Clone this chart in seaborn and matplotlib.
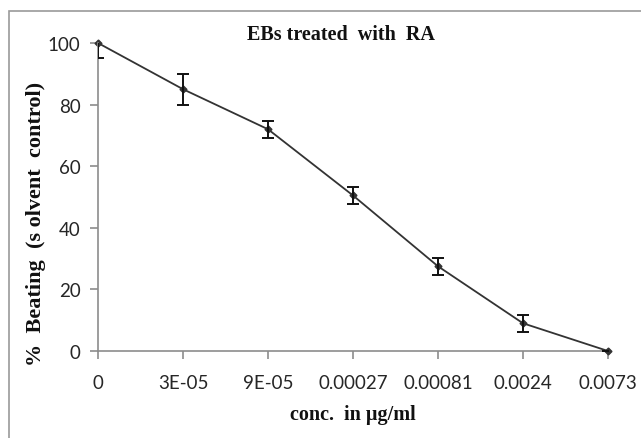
import matplotlib
matplotlib.use("Agg")
import matplotlib.pyplot as plt
import seaborn as sns
import pandas as pd
from matplotlib.patches import Rectangle

concentrations = ["0", "3E-05", "9E-05", "0.00027", "0.00081", "0.0024", "0.0073"]
beating = [100, 85, 72, 50.5, 27.5, 9, 0]
beating_err = [5, 5, 2.7, 2.7, 2.7, 2.7, 0]
y_ticks = [0, 20, 40, 60, 80, 100]

df = pd.DataFrame({"conc": concentrations, "beating": beating, "err": beating_err})

sns.set_style("white")
W, H = 641, 439
fig = plt.figure(figsize=(W / 100, H / 100), dpi=100)
ax = fig.add_axes([98 / W, 1 - 352 / H, (608 - 98) / W, (352 - 44) / H])

# outer chart frame
fig.add_artist(Rectangle((9 / W, -0.05), 1.0, 1 - 12 / H + 0.05, transform=fig.transFigure,
                         fill=False, edgecolor="#9a9a9a", linewidth=1.2))

line_color = "#333333"
sns.pointplot(data=df, x="conc", y="beating", order=concentrations, ax=ax,
              color=line_color, markers="D", markersize=3.5, linewidth=1.3,
              errorbar=None)
for artist in ax.lines + ax.collections:
    artist.set_clip_on(False)

pos = list(range(len(concentrations)))
ax.errorbar(pos, df["beating"], yerr=df["err"], fmt="none", ecolor="#111111",
            elinewidth=1.4, capsize=4, capthick=1.4, zorder=4)

ax.set_xlim(0, len(concentrations) - 1)
ax.set_ylim(0, 100)
ax.set_yticks(y_ticks)
ax.set_xticks(pos)
ax.set_xticklabels(concentrations)

for lbl in ax.get_xticklabels() + ax.get_yticklabels():
    lbl.set_fontfamily(["Lato", "DejaVu Sans"])
    lbl.set_fontsize(13.5)
    lbl.set_color("#262626")

for side in ["top", "right"]:
    ax.spines[side].set_visible(False)
for side in ["left", "bottom"]:
    ax.spines[side].set_color("#8c8c8c")
    ax.spines[side].set_linewidth(1.2)
ax.tick_params(axis="both", which="major", direction="out", length=5.5, width=1.2,
               color="#8c8c8c", left=True, bottom=True)
ax.tick_params(axis="x", pad=11)
ax.tick_params(axis="y", pad=7)

serif = ["Liberation Serif", "DejaVu Serif"]
fig.text(341 / W, 1 - 40 / H, "EBs treated  with  RA", ha="center", va="baseline",
         fontfamily=serif, fontweight="bold", fontsize=14.5, color="#111111")

ax.set_xlabel("conc.  in µg/ml", fontfamily=serif, fontweight="bold", fontsize=14.5,
              color="#111111")
ax.xaxis.label.set_va("baseline")
ax.xaxis.set_label_coords((353 - 98) / 510, (352 - 420) / 308)

ax.set_ylabel("%  Beating  (s olvent  control)", fontfamily=serif, fontweight="bold",
              fontsize=16, color="#111111")
ax.yaxis.set_label_coords((46 - 98) / 510, (352 - 223.5) / 308)

fig.savefig("out.png", dpi=100)
